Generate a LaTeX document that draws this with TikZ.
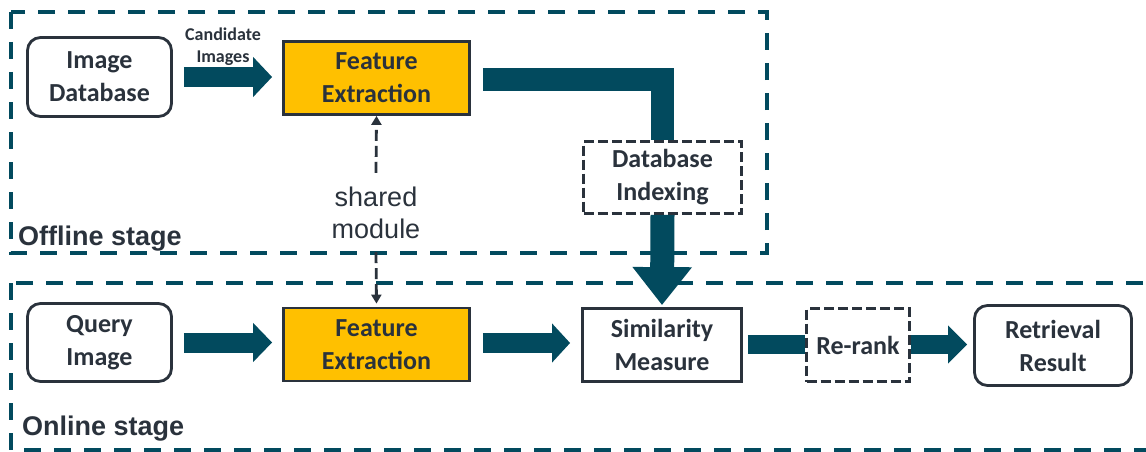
\documentclass[tikz,border=0pt]{standalone}
\usepackage{fontspec}
\setmainfont{Carlito}
\newfontfamily\arialfont{Liberation Sans}
\usetikzlibrary{arrows.meta}

\definecolor{stageteal}{RGB}{2,74,94}
\definecolor{ink}{RGB}{42,50,60}
\definecolor{featyellow}{RGB}{255,192,0}

\newcommand\diagblockfont{\bfseries\fontsize{26pt}{33pt}\selectfont}
\newcommand\diagstagefont{\arialfont\bfseries\fontsize{27pt}{32pt}\selectfont}
\newcommand\diagnotefont{\arialfont\fontsize{27pt}{32pt}\selectfont}
\newcommand\diagsmallfont{\bfseries\fontsize{18pt}{22pt}\selectfont}

\pgfdeclarelayer{back}
\pgfdeclarelayer{mid}
\pgfsetlayers{back,mid,main}

\begin{document}
\begin{tikzpicture}[x=1pt,y=-1pt,
  block/.style={draw=ink,line width=2.8pt,fill=white,inner sep=0pt,
    align=center,text=ink,font=\diagblockfont},
  roundblock/.style={block,rounded corners=13pt},
  featblock/.style={block,fill=featyellow},
  dashblock/.style={block,dash pattern=on 10pt off 4pt},
  stagebox/.style={draw=stageteal,line width=3.8pt,dash pattern=on 17pt off 13pt},
  stagelabel/.style={anchor=base west,inner sep=0pt,text=ink,font=\diagstagefont},
  flow/.style={draw=stageteal,line width=#1},
  shareflow/.style={draw=ink,line width=2.8pt,dash pattern=on 11pt off 5pt,
    -{Triangle[length=9pt,width=10pt]}},
]
\useasboundingbox (0,0) rectangle (1146,452);

% processing blocks
\node[roundblock,minimum width=144pt,minimum height=79pt] (db) at (99.5,77) {Image\\Database};
\node[featblock,minimum width=186pt,minimum height=73pt] (fe1) at (376.5,78) {Feature\\Extraction};
\node[dashblock,minimum width=158pt,minimum height=72pt] (di) at (662.5,177.5) {Database\\Indexing};
\node[roundblock,minimum width=144pt,minimum height=78pt] (qi) at (99.5,342.5) {Query\\Image};
\node[featblock,minimum width=186pt,minimum height=73pt] (fe2) at (376.5,344.5) {Feature\\Extraction};
\node[block,minimum width=159pt,minimum height=73pt] (sm) at (662,345) {Similarity\\Measure};
\node[dashblock,minimum width=103pt,minimum height=73pt] (rr) at (858,345) {Re-rank};
\node[roundblock,minimum width=157pt,minimum height=80pt] (res) at (1053,345.5) {Retrieval\\Result};

% labels
\node[inner sep=0pt,align=center,text=ink,font=\diagsmallfont] (cand) at (223,46.5) {Candidate\\Images};
\node[inner xsep=0pt,inner ysep=13.5pt,align=center,text=ink,font=\diagnotefont] (shared) at (376,212.4) {shared\\module};
\node[stagelabel] (offlbl) at (18,245) {Offline stage};
\node[stagelabel] (onlbl) at (22,435) {Online stage};

% connectors
\begin{pgfonlayer}{mid}
  \draw[flow=20pt,-{Triangle[width=39pt,length=19pt]},shorten <=11pt,shorten >=10pt]
    (db.east) -- (db.east -| fe1.west);
  \draw[flow=20pt,-{Triangle[width=38pt,length=19pt]},shorten <=11pt,shorten >=10pt]
    (qi.east) -- (qi.east -| fe2.west);
  \draw[flow=20pt,-{Triangle[width=38pt,length=18pt]},shorten <=12pt,shorten >=11pt]
    ([yshift=1.5pt]fe2.east) -- ([yshift=1.5pt]fe2.east -| sm.west);
  \draw[flow=23pt,line join=miter,shorten <=12pt]
    ([yshift=-1.5pt]fe1.east) -| (di.north);
  \draw[flow=24pt,-{Triangle[width=57pt,length=38pt]},shorten >=2pt]
    (di.south) -- (sm.north);
  \draw[flow=19pt,shorten <=5pt]
    ([yshift=0.5pt]sm.east) -- ([yshift=0.5pt]sm.east -| rr.west);
  \draw[flow=19pt,-{Triangle[width=37pt,length=19pt]},shorten >=6pt]
    ([yshift=0.5pt]rr.east) -- ([yshift=0.5pt]rr.east -| res.west);
  \draw[shareflow] (shared.north) -- (fe1.south);
  \draw[shareflow,shorten >=3pt] (shared.south) -- (fe2.north);
\end{pgfonlayer}

% stage frames
\begin{pgfonlayer}{back}
  \draw[stagebox] (11,12) rectangle (767,253);
  \draw[stagebox] (11,283) rectangle (1175,450);
\end{pgfonlayer}
\end{tikzpicture}
\end{document}
